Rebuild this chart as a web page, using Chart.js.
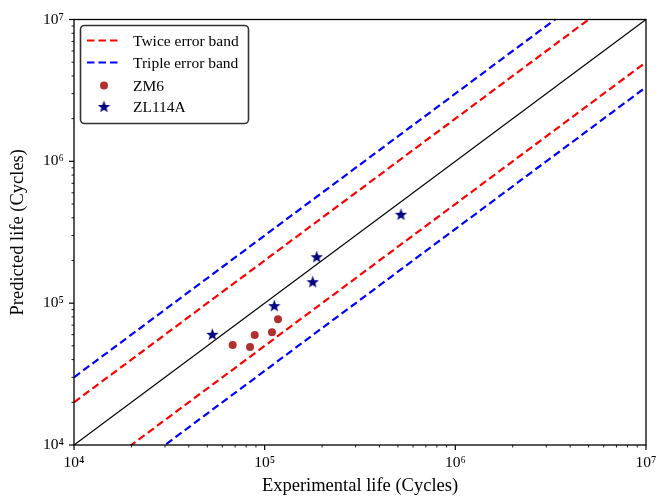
<!DOCTYPE html>
<html><head><meta charset="utf-8">
<script src="https://cdn.jsdelivr.net/npm/chart.js@4"></script>
<style>html,body{margin:0;padding:0;background:#fff}</style>
</head><body>
<canvas id="c" width="660" height="497" style="width:660px;height:497px;display:block"></canvas>
<script>
// ---- data ----
const lineX = [1e4, 1e7];
const perfectY = [1e4, 1e7];
const twiceUpperY = [2e4, 2e7];
const twiceLowerY = [5e3, 5e6];
const tripleUpperY = [3e4, 3e7];
const tripleLowerY = [3333.33, 3333333.3];
const zm6X = [67970, 83800, 88650, 109250, 117470];
const zm6Y = [50720, 49090, 59650, 62300, 76960];
const zl114aX = [53140, 112300, 178600, 187500, 518800];
const zl114aY = [60330, 96000, 141700, 212600, 423200];
const tickValues = [1e4, 1e5, 1e6, 1e7];
const tickLabels = ['10⁴', '10⁵', '10⁶', '10⁷'];
const seriesNames = ['Twice error band', 'Triple error band', 'ZM6', 'ZL114A'];
const xTitle = 'Experimental life (Cycles)';
const yTitle = 'Predicted life (Cycles)';

const SERIF = '"Liberation Serif", "Times New Roman", serif';
const RED = '#ff0000', BLUE = '#0000ff', BROWN = '#b03030', NAVY = '#000080';
const DASH = [7.5, 4];

function pts(xs, ys) { return xs.map((x, i) => ({x: x, y: ys[i]})); }

function makeStar(size, color) {
  const c = document.createElement('canvas');
  c.width = size; c.height = size;
  const g = c.getContext('2d');
  const cx = size / 2, cy = size / 2 + 0.6, R = size / 2, r = R * 0.42;
  g.beginPath();
  for (let i = 0; i < 10; i++) {
    const rad = (i % 2 === 0) ? R : r;
    const a = -Math.PI / 2 + i * Math.PI / 5;
    const px = cx + rad * Math.cos(a), py = cy + rad * Math.sin(a);
    if (i === 0) g.moveTo(px, py); else g.lineTo(px, py);
  }
  g.closePath();
  g.fillStyle = color; g.fill();
  return c;
}
const starImg = makeStar(13, NAVY);

const framePlugin = {
  id: 'frame',
  afterDraw(chart) {
    const ctx = chart.ctx, a = chart.chartArea;
    const xs = chart.scales.x, ys = chart.scales.y;
    ctx.save();
    // ticks
    ctx.strokeStyle = '#000';
    for (let e = 4; e <= 7; e++) {
      for (let m = 1; m <= 9; m++) {
        const v = m * Math.pow(10, e);
        if (v > 1e7) break;
        const major = m === 1;
        const len = major ? 5 : 2.5;
        ctx.lineWidth = major ? 1.2 : 0.9;
        const px = xs.getPixelForValue(v);
        ctx.beginPath(); ctx.moveTo(px, a.bottom); ctx.lineTo(px, a.bottom + len); ctx.stroke();
        const py = ys.getPixelForValue(v);
        ctx.beginPath(); ctx.moveTo(a.left, py); ctx.lineTo(a.left - len, py); ctx.stroke();
      }
    }
    // frame
    ctx.lineWidth = 1.3;
    ctx.strokeRect(a.left, a.top, a.right - a.left, a.bottom - a.top);
    // legend
    const bx = 80.5, by = 25.5, bw = 168, bh = 98, rr = 4;
    ctx.beginPath();
    ctx.moveTo(bx + rr, by); ctx.lineTo(bx + bw - rr, by); ctx.arcTo(bx + bw, by, bx + bw, by + rr, rr);
    ctx.lineTo(bx + bw, by + bh - rr); ctx.arcTo(bx + bw, by + bh, bx + bw - rr, by + bh, rr);
    ctx.lineTo(bx + rr, by + bh); ctx.arcTo(bx, by + bh, bx, by + bh - rr, rr);
    ctx.lineTo(bx, by + rr); ctx.arcTo(bx, by, bx + rr, by, rr);
    ctx.closePath();
    ctx.fillStyle = '#fff'; ctx.fill();
    ctx.strokeStyle = '#333'; ctx.lineWidth = 1.6; ctx.stroke();
    const rows = [40.5, 62.5, 85.5, 107];
    const sx1 = 87, sx2 = 121, scx = 104, tx = 133;
    ctx.lineWidth = 2.2; ctx.setLineDash(DASH);
    ctx.strokeStyle = RED; ctx.beginPath(); ctx.moveTo(sx1, rows[0]); ctx.lineTo(sx2, rows[0]); ctx.stroke();
    ctx.strokeStyle = BLUE; ctx.beginPath(); ctx.moveTo(sx1, rows[1]); ctx.lineTo(sx2, rows[1]); ctx.stroke();
    ctx.setLineDash([]);
    ctx.fillStyle = BROWN; ctx.beginPath(); ctx.arc(scx, rows[2], 4, 0, Math.PI * 2); ctx.fill();
    ctx.drawImage(starImg, scx - 6.5, rows[3] - 7);
    ctx.fillStyle = '#000'; ctx.font = '15.5px ' + SERIF; ctx.textBaseline = 'middle'; ctx.textAlign = 'left';
    seriesNames.forEach((n, i) => ctx.fillText(n, tx, rows[i] + 1));
    ctx.restore();
  }
};

function logAxis(title, isX) {
  return {
    type: 'logarithmic', min: 1e4, max: 1e7,
    afterBuildTicks: s => { s.ticks = tickValues.map(v => ({value: v})); },
    afterFit: s => {
      if (isX) s.height = 52; else s.width = 74;
      s.paddingLeft = 0; s.paddingRight = 0; s.paddingTop = 0; s.paddingBottom = 0;
    },
    grid: {display: false, drawTicks: false},
    border: {display: false},
    ticks: {
      autoSkip: false, maxRotation: 0, color: '#000',
      padding: isX ? 9 : 10,
      font: {family: SERIF, size: 15.5},
      callback: (v) => { const i = tickValues.indexOf(v); return i >= 0 ? tickLabels[i] : ''; }
    },
    title: {display: true, text: title, color: '#000', font: {family: SERIF, size: 18.5},
            padding: isX ? {top: 0, bottom: 0} : {top: 7, bottom: 0}}
  };
}

new Chart(document.getElementById('c'), {
  type: 'scatter',
  data: {
    datasets: [
      {label: seriesNames[3], data: pts(zl114aX, zl114aY), pointStyle: starImg, pointRadius: 6, showLine: false},
      {label: seriesNames[2], data: pts(zm6X, zm6Y), pointStyle: 'circle', pointRadius: 4,
       backgroundColor: BROWN, borderColor: BROWN, borderWidth: 0, showLine: false},
      {label: 'y=x', data: pts(lineX, perfectY), showLine: true, pointRadius: 0, borderColor: '#000', borderWidth: 1.2, clip: 0},
      {label: seriesNames[0] + ' +', data: pts(lineX, twiceUpperY), showLine: true, pointRadius: 0, borderColor: RED, borderWidth: 2.2, borderDash: DASH, clip: 0},
      {label: seriesNames[0] + ' -', data: pts(lineX, twiceLowerY), showLine: true, pointRadius: 0, borderColor: RED, borderWidth: 2.2, borderDash: DASH, clip: 0},
      {label: seriesNames[1] + ' +', data: pts(lineX, tripleUpperY), showLine: true, pointRadius: 0, borderColor: BLUE, borderWidth: 2.2, borderDash: DASH, clip: 0},
      {label: seriesNames[1] + ' -', data: pts(lineX, tripleLowerY), showLine: true, pointRadius: 0, borderColor: BLUE, borderWidth: 2.2, borderDash: DASH, clip: 0}
    ]
  },
  options: {
    responsive: false, animation: false, devicePixelRatio: 1,
    layout: {padding: {left: 0, right: 14, top: 19.5, bottom: 0}},
    plugins: {legend: {display: false}, tooltip: {enabled: false}},
    scales: {x: logAxis(xTitle, true), y: logAxis(yTitle, false)}
  },
  plugins: [framePlugin]
});
</script>
</body></html>
